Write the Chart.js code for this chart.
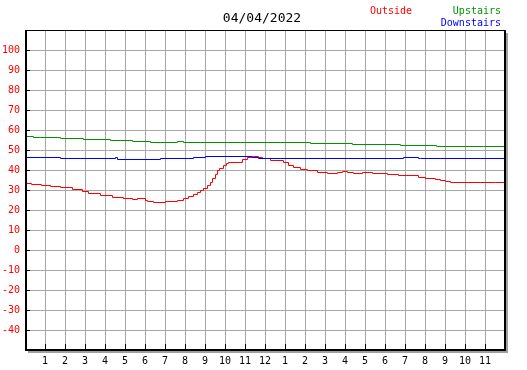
<!DOCTYPE html>
<html>
<head>
<meta charset="utf-8">
<script src="https://cdn.jsdelivr.net/npm/chart.js@4"></script>
<style>
html,body{margin:0;padding:0;background:#fff;}
canvas{display:block;}
</style>
</head>
<body>
<canvas id="c" width="527" height="370"></canvas>
<script>
// ---- data (hours since midnight, temperature) ----
const titleText = "04/04/2022";
const seriesNames = ["Outside", "Upstairs", "Downstairs"];
const seriesColors = ["#ff0000", "#009400", "#0000ff"];

const outsideHours = [0, 0.3, 0.8, 1.25, 1.75, 2.35, 2.85, 3.15, 3.75, 4.35, 4.9, 5.35, 5.6, 6.0, 6.1, 6.4, 7.0, 7.6, 7.9, 8.15, 8.4, 8.6, 8.75, 8.9, 9.1, 9.25, 9.35, 9.5, 9.6, 9.7, 9.9, 10.05, 10.15, 10.85, 11.1, 11.4, 11.65, 11.85, 12.25, 12.9, 13.15, 13.4, 13.75, 14.1, 14.6, 15.1, 15.6, 15.85, 16.1, 16.4, 16.85, 17.35, 18.1, 18.65, 19.65, 20.0, 20.5, 20.75, 21.0, 21.25, 23.5, 23.95];
const outsideTemps = [34, 33.5, 33, 32.5, 32, 31.5, 30.5, 29.5, 28.5, 27.5, 26.5, 26, 25.5, 26, 25, 24.5, 24, 24.5, 25, 26, 27, 28, 29, 30, 31, 32.5, 34, 36, 38, 40, 41, 42.5, 43.5, 44, 45.5, 46.5, 47, 46.5, 46, 45, 44, 42.5, 41.5, 40.5, 40, 39, 38.5, 39, 39.5, 39, 38.5, 39, 38.5, 38, 37.5, 36.5, 36, 35.5, 35, 34.5, 34, 34];

const upstairsHours = [0, 0.4, 1.75, 2.9, 4.25, 5.35, 6.25, 7.6, 7.9, 14.25, 16.35, 18.75, 20.55, 22.9, 23.95];
const upstairsTemps = [57.5, 57, 56.5, 56, 55.5, 55, 54.5, 54, 54.5, 54, 53.5, 53, 52.5, 52, 52];

const downstairsHours = [0, 1.75, 4.5, 4.6, 6.75, 8.4, 9.0, 11.35, 11.65, 18.9, 19.65, 19.75, 23.95];
const downstairsTemps = [47, 46.5, 46, 46.5, 45.5, 46, 46.5, 47, 46.5, 46, 46.5, 46, 46];

const xMin = 0, xMax = 24, yMin = -50, yMax = 110;
const hourLabels = ["", "1","2","3","4","5","6","7","8","9","10","11","12","1","2","3","4","5","6","7","8","9","10","11",""];

function pts(h, v){ return h.map((x,i)=>({x:x, y:v[i]})); }

const monoFont = "'DejaVu Sans Mono', 'Liberation Mono', monospace";

const crisp = {
  id: 'crisp',
  beforeDatasetsDraw(chart){ chart.ctx.save(); chart.ctx.translate(0.5, 0.5); },
  afterDatasetsDraw(chart){ chart.ctx.restore(); }
};

const decor = {
  id: 'decor',
  afterDraw(chart){
    const ctx = chart.ctx, a = chart.chartArea;
    const xs = chart.scales.x, ys = chart.scales.y;
    ctx.save();
    // inside tick marks
    ctx.strokeStyle = '#000'; ctx.lineWidth = 1;
    ys.ticks.forEach(t=>{
      if (t.value <= yMin || t.value >= yMax) return;
      const p = Math.round(ys.getPixelForValue(t.value)) + 0.5;
      ctx.beginPath(); ctx.moveTo(a.left, p); ctx.lineTo(a.left+5, p); ctx.stroke();
    });
    xs.ticks.forEach(t=>{
      if (t.value <= xMin || t.value >= xMax) return;
      const p = Math.round(xs.getPixelForValue(t.value)) + 0.5;
      ctx.beginPath(); ctx.moveTo(p, a.bottom); ctx.lineTo(p, a.bottom-6); ctx.stroke();
    });
    // shadow
    ctx.fillStyle = '#a0a0a0';
    ctx.fillRect(a.right+1, a.top+3, 2, a.bottom - a.top);
    ctx.fillRect(a.left+3, a.bottom+1, a.right - a.left, 2);
    // border
    ctx.fillStyle = '#000';
    ctx.fillRect(a.left, a.top, a.right - a.left + 1, 1);
    ctx.fillRect(a.left, a.top, 2, a.bottom - a.top + 1);
    ctx.fillRect(a.right-1, a.top, 2, a.bottom - a.top + 1);
    ctx.fillRect(a.left, a.bottom-1, a.right - a.left + 1, 2);
    // title & legend texts
    ctx.textBaseline = 'middle';
    ctx.font = '13px ' + monoFont;
    ctx.fillStyle = '#000';
    ctx.textAlign = 'center';
    ctx.fillText(titleText, 262, 19);
    ctx.font = '10px ' + monoFont;
    ctx.textAlign = 'left';
    ctx.fillStyle = seriesColors[0];
    ctx.fillText(seriesNames[0], 370, 11);
    ctx.textAlign = 'right';
    ctx.fillStyle = seriesColors[1];
    ctx.fillText(seriesNames[1], 501, 11);
    ctx.fillStyle = seriesColors[2];
    ctx.fillText(seriesNames[2], 501, 23);
    ctx.restore();
  }
};

const ds = (name, h, v, c) => ({
  label: name, data: pts(h, v), borderColor: c, backgroundColor: c,
  borderWidth: 1, pointRadius: 0, stepped: 'after', fill: false
});

new Chart(document.getElementById('c'), {
  type: 'line',
  data: { datasets: [
    ds(seriesNames[1], upstairsHours, upstairsTemps, seriesColors[1]),
    ds(seriesNames[2], downstairsHours, downstairsTemps, seriesColors[2]),
    ds(seriesNames[0], outsideHours, outsideTemps, seriesColors[0])
  ]},
  options: {
    responsive: false, animation: false, devicePixelRatio: 1,
    layout: { padding: { left: 0, top: 30, right: 22, bottom: 0 } },
    plugins: { legend: { display: false }, title: { display: false }, tooltip: { enabled: false } },
    scales: {
      x: {
        type: 'linear', min: xMin, max: xMax,
        afterFit(s){ s.height = 20; },
        grid: { color: '#a6a6a6', lineWidth: 1, drawTicks: false },
        border: { display: false },
        ticks: { stepSize: 1, autoSkip: false, maxRotation: 0, padding: 5, color: '#000',
          font: { family: monoFont, size: 10 },
          callback: v => hourLabels[v] }
      },
      y: {
        min: yMin, max: yMax,
        afterFit(s){ s.width = 25; },
        grid: { color: '#a6a6a6', lineWidth: 1, drawTicks: false },
        border: { display: false },
        ticks: { stepSize: 10, autoSkip: false, padding: 5, color: '#ff0000',
          font: { family: monoFont, size: 10 },
          callback: v => (v <= yMin || v >= yMax) ? '' : String(v) }
      }
    }
  },
  plugins: [crisp, decor]
});
</script>
</body>
</html>
